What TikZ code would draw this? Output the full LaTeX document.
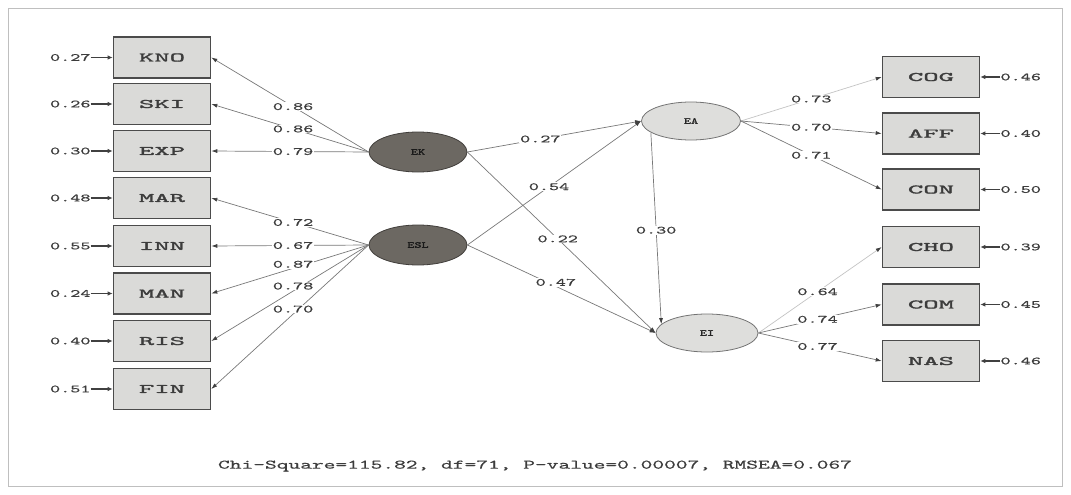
\documentclass[tikz,border=0pt]{standalone}
\usepackage{fontspec}
\newfontfamily\ttb{lmmono10-regular.otf}[FakeBold=1.3]
\newfontfamily\ttr{lmmono10-regular.otf}[FakeBold=0.5]
\usetikzlibrary{arrows.meta,shapes.geometric}
\definecolor{boxfill}{RGB}{218,218,216}
\definecolor{boxline}{RGB}{75,75,75}
\definecolor{darkell}{RGB}{108,104,98}
\definecolor{lightell}{RGB}{222,222,220}
\definecolor{edgecol}{RGB}{120,120,120}
\definecolor{faintcol}{RGB}{195,195,195}
\definecolor{txtcol}{RGB}{60,60,60}
\newcommand\boxtxt[1]{\scalebox{2.25}[1]{\fontsize{13}{13}\selectfont\ttb #1}}
\newcommand\numtxt[1]{\scalebox{1.75}[1]{\fontsize{11}{11}\selectfont\ttr #1}}
\newcommand\elltxt[1]{\scalebox{1.5}[1]{\fontsize{9}{9}\selectfont\ttb #1}}
\newcommand\chitxt[1]{\scalebox{1.72}[1]{\fontsize{13}{13}\selectfont\ttr #1}}
\tikzset{
  ind/.style={draw=boxline, line width=1.6pt, fill=boxfill, minimum width=97pt, minimum height=41pt, inner sep=0pt, text=txtcol},
  latdark/.style={ellipse, draw=darkell!60!black, line width=0.8pt, fill=darkell, minimum width=98pt, minimum height=40pt, inner sep=0pt, text=black!90},
  latlight/.style={ellipse, draw=black!55, line width=0.8pt, fill=lightell, minimum width=99pt, minimum height=38pt, inner sep=0pt, text=black!85},
  path/.style={draw=edgecol, line width=0.7pt, -{Latex[length=6pt,width=4pt,color=black!75]}},
  faint/.style={path, draw=faintcol},
  lab/.style={fill=white, inner sep=0.8pt, text=txtcol},
  errlab/.style={inner sep=0pt, text=txtcol},
  errarr/.style={draw=black!75, line width=1.2pt, -{Latex[length=5pt,width=4.5pt]}}
}
\begin{document}
\begin{tikzpicture}[x=1pt,y=-1pt]
\useasboundingbox (0,0) rectangle (1071,495);
\draw[draw=black!25, line width=1pt] (8,9) rectangle (1062,486);

% left indicators
\node[ind] (KNO) at (162,57.5) {\boxtxt{KNO}};
\node[ind] (SKI) at (162,104) {\boxtxt{SKI}};
\node[ind] (EXP) at (162,151) {\boxtxt{EXP}};
\node[ind] (MAR) at (162,198) {\boxtxt{MAR}};
\node[ind] (INN) at (162,246) {\boxtxt{INN}};
\node[ind] (MAN) at (162,293.5) {\boxtxt{MAN}};
\node[ind] (RIS) at (162,341) {\boxtxt{RIS}};
\node[ind] (FIN) at (162,389) {\boxtxt{FIN}};

% right indicators
\node[ind] (COG) at (931,77) {\boxtxt{COG}};
\node[ind] (AFF) at (931,133.5) {\boxtxt{AFF}};
\node[ind] (CON) at (931,189.5) {\boxtxt{CON}};
\node[ind] (CHO) at (931,247) {\boxtxt{CHO}};
\node[ind] (COM) at (931,304.5) {\boxtxt{COM}};
\node[ind] (NAS) at (931,361) {\boxtxt{NAS}};

% latent variables
\node[latdark] (EK) at (418,152) {\elltxt{EK}};
\node[latdark] (ESL) at (418,245) {\elltxt{ESL}};
\node[latlight] (EA) at (691,121) {\elltxt{EA}};
\node[latlight, minimum width=102pt] (EI) at (707,333) {\elltxt{EI}};

% error terms left
\foreach \n/\v in {KNO/0.27,SKI/0.26,EXP/0.30,MAR/0.48,INN/0.55,MAN/0.24,RIS/0.40,FIN/0.51}{
  \node[errlab, anchor=east] (e\n) at ([xshift=-22pt]\n.west) {\numtxt{\v}};
  \draw[errarr] (e\n.east) -- (\n.west);
}
% error terms right
\foreach \n/\v in {COG/0.46,AFF/0.40,CON/0.50,CHO/0.39,COM/0.45,NAS/0.46}{
  \node[errlab, anchor=west] (e\n) at ([xshift=20pt]\n.east) {\numtxt{\v}};
  \draw[errarr] (e\n.west) -- (\n.east);
}

% loadings EK
\draw[path] (EK.west) -- node[lab,pos=0.48] {\numtxt{0.86}} (KNO.east);
\draw[path] (EK.west) -- node[lab,pos=0.48] {\numtxt{0.86}} (SKI.east);
\draw[path] (EK.west) -- node[lab,pos=0.48] {\numtxt{0.79}} (EXP.east);
% loadings ESL
\draw[path] (ESL.west) -- node[lab,pos=0.48] {\numtxt{0.72}} (MAR.east);
\draw[path] (ESL.west) -- node[lab,pos=0.48] {\numtxt{0.67}} (INN.east);
\draw[path] (ESL.west) -- node[lab,pos=0.48,yshift=4pt] {\numtxt{0.87}} (MAN.east);
\draw[path] (ESL.west) -- node[lab,pos=0.48,yshift=5pt] {\numtxt{0.78}} (RIS.east);
\draw[path] (ESL.west) -- node[lab,pos=0.48,yshift=5pt] {\numtxt{0.70}} (FIN.east);

% structural paths
\draw[path] (EK.east) -- node[lab,pos=0.42] {\numtxt{0.27}} (EA.west);
\draw[path] (ESL.east) -- node[lab,pos=0.47] {\numtxt{0.54}} (EA.west);
\draw[path] (EK.east) -- node[lab,pos=0.48] {\numtxt{0.22}} (EI.west);
\draw[path] (ESL.east) -- node[lab,pos=0.47,yshift=4pt] {\numtxt{0.47}} (EI.west);
\draw[path] (EA.196) -- node[lab,pos=0.51] {\numtxt{0.30}} (EI.169);

% loadings EA
\draw[faint] (EA.east) -- node[lab,pos=0.5] {\numtxt{0.73}} (COG.west);
\draw[path] (EA.east) -- node[lab,pos=0.5] {\numtxt{0.70}} (AFF.west);
\draw[path] (EA.east) -- node[lab,pos=0.5] {\numtxt{0.71}} (CON.west);
% loadings EI
\draw[faint] (EI.east) -- node[lab,pos=0.48] {\numtxt{0.64}} (CHO.west);
\draw[path] (EI.east) -- node[lab,pos=0.48] {\numtxt{0.74}} (COM.west);
\draw[path] (EI.east) -- node[lab,pos=0.48] {\numtxt{0.77}} (NAS.west);

\node[text=txtcol] (fit) at (535,466) {\chitxt{Chi-Square=115.82, df=71, P-value=0.00007, RMSEA=0.067}};
\end{tikzpicture}
\end{document}
